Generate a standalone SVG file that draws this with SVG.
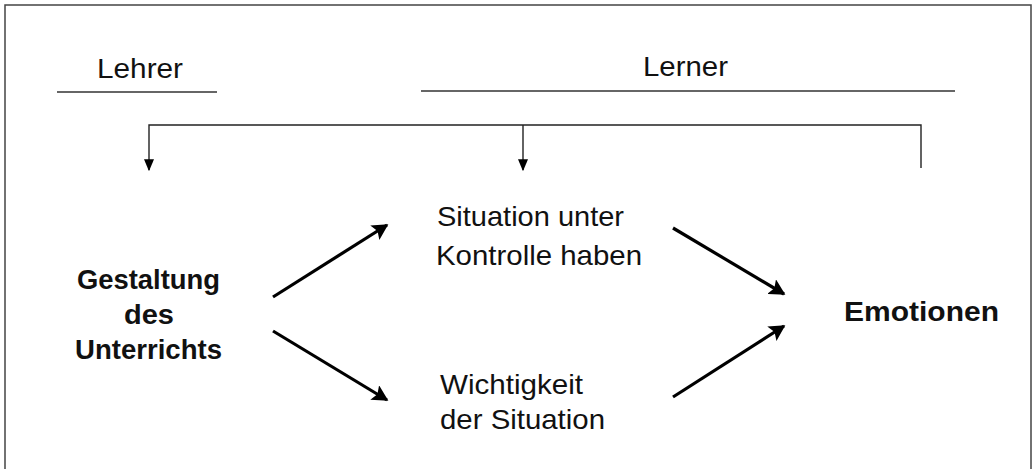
<svg xmlns="http://www.w3.org/2000/svg" width="1036" height="469" viewBox="0 0 1036 469">
<style>
.t{font-family:"Liberation Sans",Arial,sans-serif;font-size:28.5px;fill:#111}
.b{font-weight:bold;font-size:27.5px}
.thin{stroke:#222;stroke-width:1.4;fill:none}
.bold{stroke:#000;stroke-width:3.2;fill:none}
</style>
<defs>
<marker id="sm" viewBox="0 0 10 10" refX="9" refY="5" markerWidth="12" markerHeight="10" markerUnits="userSpaceOnUse" orient="auto" preserveAspectRatio="none"><path d="M0,0 L10,5 L0,10 z" fill="#000"/></marker>
<marker id="bg" viewBox="0 0 10 10" refX="9" refY="5" markerWidth="16" markerHeight="17" markerUnits="userSpaceOnUse" orient="auto" preserveAspectRatio="none"><path d="M0,0 L10,5 L0,10 L2,5 z" fill="#000"/></marker>
</defs>
<rect width="1036" height="469" fill="#fff"/>
<path d="M5,475 V5 H1031 V475" fill="none" stroke="#444" stroke-width="1.5"/>
<g id="header-lehrer">
<text class="t" x="97" y="78" textLength="86" lengthAdjust="spacingAndGlyphs">Lehrer</text>
<line x1="57" y1="92" x2="217" y2="92" stroke="#333" stroke-width="1.3"/>
</g>
<g id="header-lerner">
<text class="t" x="643" y="76" textLength="85" lengthAdjust="spacingAndGlyphs">Lerner</text>
<line x1="421" y1="91" x2="955" y2="91" stroke="#333" stroke-width="1.3"/>
</g>
<g id="gestaltung">
<text class="t b" x="77" y="289" textLength="143" lengthAdjust="spacingAndGlyphs">Gestaltung</text>
<text class="t b" x="124" y="324" textLength="50" lengthAdjust="spacingAndGlyphs">des</text>
<text class="t b" x="75" y="359" textLength="147" lengthAdjust="spacingAndGlyphs">Unterrichts</text>
</g>
<g id="kontrolle">
<text class="t" x="437" y="226" textLength="187" lengthAdjust="spacingAndGlyphs">Situation unter</text>
<text class="t" x="436" y="265" textLength="206" lengthAdjust="spacingAndGlyphs">Kontrolle haben</text>
</g>
<g id="wichtigkeit">
<text class="t" x="440" y="394" textLength="143" lengthAdjust="spacingAndGlyphs">Wichtigkeit</text>
<text class="t" x="440" y="429" textLength="165" lengthAdjust="spacingAndGlyphs">der Situation</text>
</g>
<g id="emotionen">
<text class="t b" x="844" y="321" textLength="155" lengthAdjust="spacingAndGlyphs">Emotionen</text>
</g>
<g id="connectors">
<path class="thin" d="M921,168 V125 H149 V170" marker-end="url(#sm)"/>
<line class="thin" x1="523" y1="125" x2="523" y2="170" marker-end="url(#sm)"/>
<line class="bold" x1="273" y1="297" x2="387" y2="225" marker-end="url(#bg)"/>
<line class="bold" x1="273" y1="331" x2="387" y2="400" marker-end="url(#bg)"/>
<line class="bold" x1="673" y1="228" x2="784" y2="294" marker-end="url(#bg)"/>
<line class="bold" x1="673" y1="397" x2="784" y2="326" marker-end="url(#bg)"/>
</g>
</svg>
